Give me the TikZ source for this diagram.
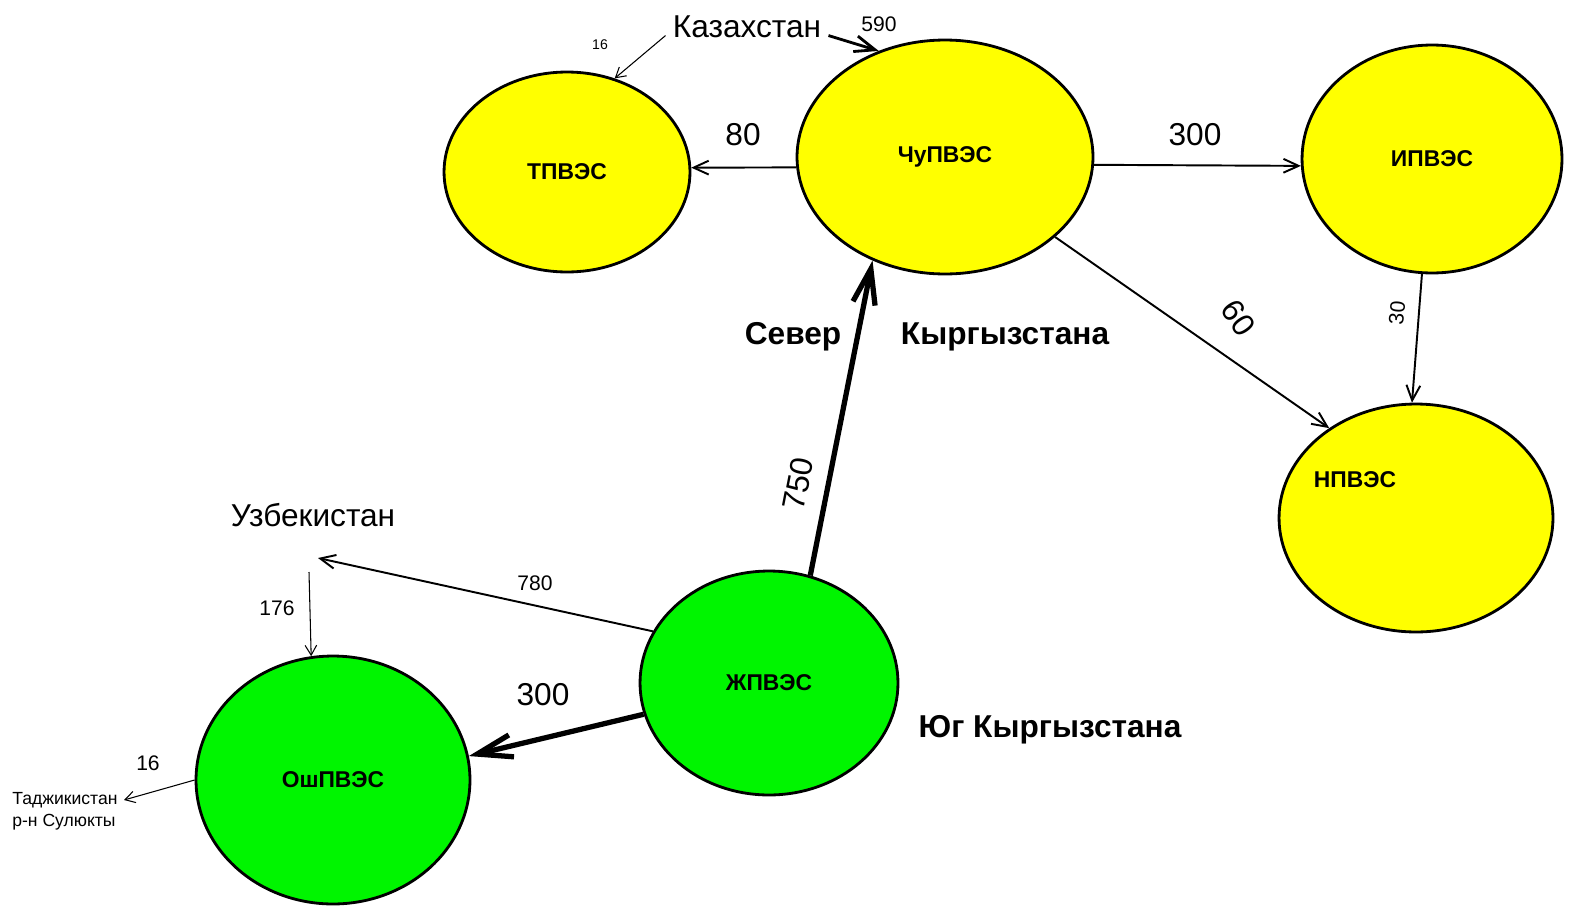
\documentclass[tikz,border=0pt]{standalone}
\usepackage{fontspec}
\setmainfont{Liberation Sans}
\usetikzlibrary{shapes.geometric, arrows.meta}
\definecolor{sgreen}{RGB}{0,245,0}
\definecolor{nyellow}{RGB}{255,255,0}
\tikzset{
  station/.style={draw, line width=1.6pt, ellipse, inner sep=0pt, font=\fontsize{13}{15}\selectfont\bfseries},
  northst/.style={station, fill=nyellow},
  southst/.style={station, fill=sgreen},
  bigtxt/.style={inner sep=1pt, font=\fontsize{18}{20}\selectfont},
  regtxt/.style={inner sep=1pt, font=\fontsize{18}{20}\selectfont\bfseries},
  bignum/.style={inner sep=1pt, font=\fontsize{18}{20}\selectfont},
  midnum/.style={inner sep=1pt, font=\fontsize{12}{14}\selectfont},
  tinynum/.style={inner sep=1pt, font=\fontsize{8}{10}\selectfont},
  link/.style={->, line width=1.1pt},
  faintlink/.style={->, line width=0.6pt},
  mainlink/.style={->, line width=3pt}
}
\begin{document}
\begin{tikzpicture}[x=0.02cm, y=-0.02cm, >={Straight Barb[length=2pt 6, width=5pt 2.6]}]
  \useasboundingbox (0,0) rectangle (1574,906);
  \node[northst, minimum width=4.92cm, minimum height=4cm] (tp) at (567,172) {ТПВЭС};
  \node[northst, minimum width=5.92cm, minimum height=4.68cm] (chu) at (945,157) {ЧуПВЭС};
  \node[northst, minimum width=5.2cm, minimum height=4.56cm] (ip) at (1432,159) {ИПВЭС};
  \node[northst, minimum width=5.48cm, minimum height=4.56cm,
        label={[xshift=-1.22cm, yshift=0.76cm, font=\fontsize{13}{15}\selectfont\bfseries]center:НПВЭС}] (np) at (1416,518) {};
  \node[southst, minimum width=5.16cm, minimum height=4.48cm] (zh) at (769,683) {ЖПВЭС};
  \node[southst, minimum width=5.48cm, minimum height=4.96cm] (osh) at (333,780) {ОшПВЭС};

  \node[bigtxt, inner xsep=4pt] (kaz) at (747,27) {Казахстан};
  \node[bigtxt] (uzb) at (313,515) {Узбекистан};
  \node[inner sep=0pt, align=left, anchor=west, font=\fontsize{10}{12.5}\selectfont] (taj) at (12,811) {Таджикистан\\р-н Сулюкты};
  \coordinate (uzbin) at (318,558);
  \coordinate (uzbout) at (309,572);
  \coordinate (tajin) at (124,800);

  \node[regtxt] (sever) at (793,337) {Север};
  \node[regtxt] (kyrg) at (1005,337) {Кыргызстана};
  \node[regtxt] (yug) at (1050,730) {Юг Кыргызстана};

  \draw[link] (chu.184) -- (tp.2);
  \draw[link] (chu.357) -- (ip.183);
  \draw[link] (chu.324) -- (np.134);
  \draw[link] (ip.265) -- (np.92);
  \draw[mainlink] (zh.69) -- (chu.235);
  \draw[mainlink] (zh.194) -- (osh.10);
  \draw[link] (zh.156) -- (uzbin);
  \draw[faintlink] (uzbout) -- (osh.100);
  \draw[faintlink] (kaz.186) -- (tp.63);
  \draw[->, line width=1.6pt] (kaz.354) -- (chu.122);
  \draw[faintlink] (osh.west) -- (tajin);

  \node[bignum] (n80) at (743,135) {80};
  \node[bignum] (n300a) at (1195,135) {300};
  \node[bignum, rotate=-55] (n60) at (1238,318) {60};
  \node[midnum, rotate=85] (n30) at (1397,313) {30};
  \node[bignum, rotate=79] (n750) at (798,484) {750};
  \node[bignum] (n300b) at (543,695) {300};
  \node[midnum] (n780) at (535,583) {780};
  \node[midnum] (n176) at (277,608) {176};
  \node[tinynum] (n16a) at (600,45) {16};
  \node[midnum] (n590) at (879,24) {590};
  \node[midnum] (n16b) at (148,763) {16};
\end{tikzpicture}
\end{document}
